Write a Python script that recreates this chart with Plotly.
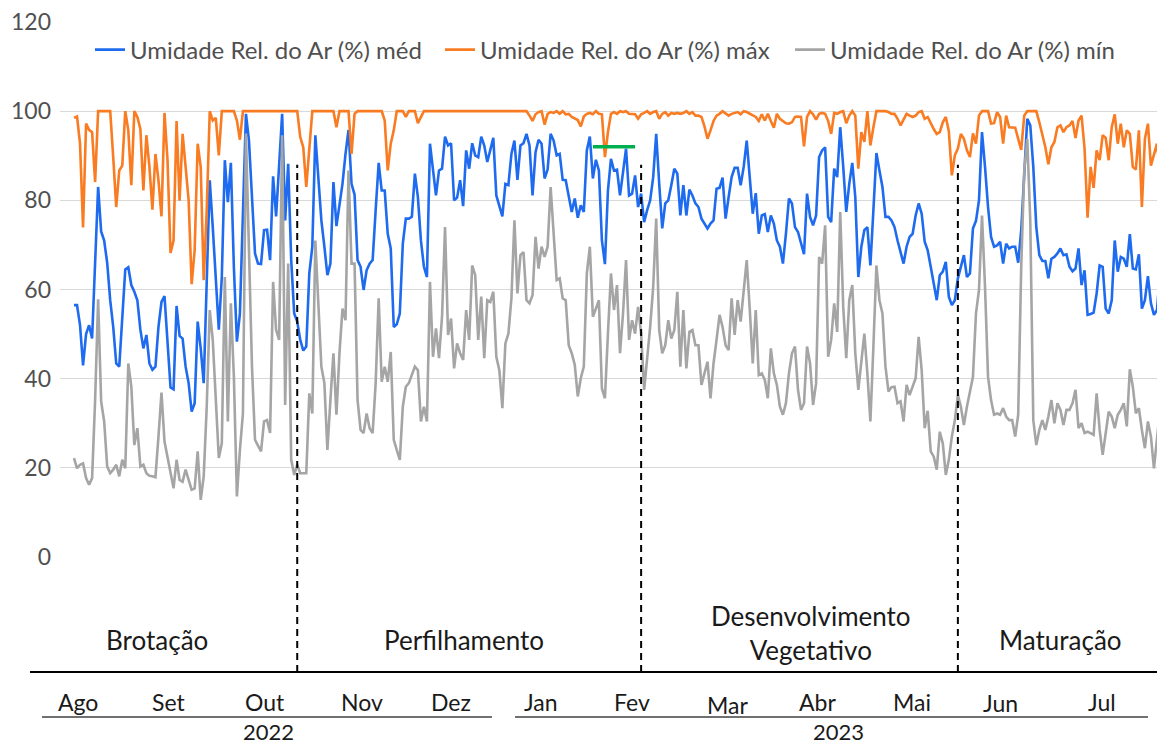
import pandas as pd
import plotly.graph_objects as go

# ---------------- data (daily relative humidity, %) ----------------
umid_med = [
    56.5,56.5,52,43,50,52,49,66,83,73,71,66,57.6,51.6,43.4,42.7,54,64.5,65,61,
    59.5,57.6,51,46.8,49.8,43.4,42,42.7,51.6,57.2,58.5,48,38,37.6,56.3,49.6,49,42.7,39,32.6,
    34.5,52.8,46.8,39,62.8,84.5,74,63.6,51,62.8,89,79.6,88.4,65,48.3,54.6,78.5,99.4,
    93.4,80,68.1,65.8,65.7,73.3,73.4,66.6,85.4,76.4,87.5,99.4,75.5,88.2,66.6,54.6,52.8,48.7,46.3,47.2,
    63.6,69.6,94.6,85.2,75.5,69.6,63.2,65.8,84.1,74.2,79.3,83.7,90.4,95.8,83.7,81.3,66.6,65.1,59.9,64.3,
    65.8,66.6,77.8,88.4,82.2,82.2,72.5,69.2,51.6,52.2,54.6,70.3,75.9,75.9,76.3,86,80.7,71,65.1,62.8,92.7,
    86.7,81.1,86.7,87.1,94.3,92.3,92.8,80,80.6,84.5,78.7,91.2,87.1,92.8,90.1,89.7,94.3,92.3,88.6,91.2,
    94,81.1,78.5,76.4,83.7,83.4,90.4,93.4,84.6,92.3,92.8,94.9,92.3,81.1,90.8,93.6,92.7,84.9,86.9,94.9,
    93.4,90.1,90.4,84.6,84.5,81.1,77.4,80.4,76.1,78.9,77.4,91.2,94.3,84.9,89.1,86.7,71,65.7,82.2,89.3,
    86.7,86.9,81.1,86.3,91.6,81.1,81.5,85.6,78.5,81.5,75.1,77.8,80,85.2,94.9,83.7,73.7,79.3,80,83.4,
    87.1,86,76.6,83.4,76.6,82.4,81.1,79.3,78.5,75.9,74.8,73.7,74.8,75.5,82.6,82.8,85.1,75.9,80.7,85.2,
    87.3,87.3,83.4,87.5,93.4,86,77,81.6,72.5,76.6,76.9,72.9,76.6,74.8,71,69.6,65.8,72.5,80.4,79.3,
    74,72.9,70.3,67.9,81.5,76.3,74.4,76.6,89.7,91.2,91.9,76.3,75.1,87.1,85.2,96.4,87.5,77.4,83.7,88.4,
    80.7,62.8,69.6,73.3,74,65.4,77.8,90.6,86.7,83,76.3,76.3,75.5,74,71,68.4,65.8,69.6,71.8,72.5,
    76.6,79.3,77,70.7,68.8,65.1,61,57.6,63.2,64,66.2,58.4,56.5,57.6,62.5,65.4,67.7,62.8,63.6,73.7,
    75.4,80,95.3,87.5,78.5,71.8,69.6,69.9,70.7,65.8,70.3,69.2,69.6,69.6,66,73.3,85.2,98.3,96.8,87.5,
    74,67.7,66.4,66.4,62.5,66.9,67.3,68.1,69.2,67.7,67.9,65.1,64.1,64.7,69.2,61,64.3,54.3,54.5,54.8,
    59.1,65.4,65.1,55.7,54.6,57.6,71,64,67.3,66.9,65.1,72.4,64.7,64.5,67.9,55.7,57.6,63,56.9,54.3,
    55.4,63.6,67.9,
]

umid_max = [
    98.5,98.8,92.7,73.9,97.2,95.8,95.3,84.1,100,100,100,100,100,89.7,78.5,86.7,87.8,100,95.7,83.4,
    100,98.7,96,82.2,94.6,87.5,77.9,90.4,84.5,76.4,99.6,89,68.2,71,97.8,79.9,94.9,87.5,80,61.2,
    68.8,92.7,87.5,62.1,77.8,100,97.9,98.5,90.1,100,100,100,100,100,97.9,93.6,100,100,
    100,100,100,100,100,100,100,100,100,100,100,100,100,100,100,100,100,94.2,91.9,83,
    91.9,100,100,100,100,100,100,100,100,96.4,100,100,100,100,90.4,99.4,100,100,100,100,
    100,100,100,100,100,97.9,86.7,92.7,95.7,100,100,100,98.7,100,100,100,97.3,98.8,100,100,100,
    100,100,100,100,100,100,100,100,100,100,100,100,100,100,100,100,100,100,100,100,
    100,100,100,100,100,100,100,100,100,100,100,100,99,97.8,99.3,99.8,100,97,99.4,99.8,
    99.6,100,99.4,100,99.3,99.4,98.7,98.3,98,96.6,98.8,99.4,99.6,99.3,100,99.4,99.3,89.7,95.3,99.4,
    99.8,99.4,100,99.8,100,99.4,99.4,99.3,98.3,99.3,99.6,100,99.4,99.8,100,98.3,99.4,99.8,99,99.6,
    99.4,99.6,99.4,99.6,100,99.4,99.8,99,99,98.7,96.6,93.8,95.7,97.8,99,99.4,100,99.4,99,99.4,
    99.6,99.8,99.3,100,99.8,99.4,99,98.7,97.8,99.3,97.9,99.4,97.8,96.3,99.4,98.3,97.8,97.3,97.2,97.5,
    98.7,98.8,98.7,92.1,98.7,100,99.3,98.1,99.4,99.6,99.4,97.8,94.9,99.6,99.4,99.8,100,97.3,99,100,
    99,87.1,95.3,93.1,100,92.3,96.4,100,100,100,100,99.8,99.4,99.4,98.3,96.8,98.3,99.4,99,98.7,
    99,99.8,100,98.3,98.7,97.2,96,94.9,95.3,97.5,98.7,95.5,85.6,90.1,91.6,94.9,93.8,91.2,89.7,95,
    92.7,99,100,100,100,97.2,97.3,99.8,98.7,92.7,99,96.4,96.4,96.3,93.8,91.3,99,100,100,100,
    100,97.5,94.9,91.9,88.1,91.9,93.1,96.4,96.8,95.3,96.4,96.8,97.8,94,97.9,99,91.6,76.1,87.5,82.8,
    91.2,89,94.6,94,89,96.4,99.3,92.7,97.2,91.9,95.7,94.9,87.5,86.9,95.7,78.5,93.8,97.2,87.8,90.1,
    92.7,86.7,96,
]

umid_min = [
    22.2,19.9,20.7,21,17.7,16.2,17.7,35.2,57.8,34.9,30.4,20.3,18.8,19.6,20.7,18.1,21.8,19.9,43.4,38.2,
    25.1,28.9,20.3,20.7,18.8,18.2,18.1,17.9,27,36.9,25.9,22.5,18.4,15.4,21.8,17.3,16.9,19.6,17.3,15.1,
    15.4,23.7,12.8,18.1,33.7,55.4,48.7,35.2,22.2,25.5,62.8,30.4,56.9,40.4,13.6,24,32.2,95,
    67.3,42.7,26.3,24.8,23.7,30.4,30.7,27.8,61.7,50.9,48.7,94.6,34.1,65.8,21.8,18.4,20.7,18.8,18.8,18.8,
    36.7,32.2,71,57.6,42.7,39,24,35.2,45.7,31.9,45.7,55.7,53.1,86.7,65.8,65.8,35.2,28.5,27.8,32.2,
    28.9,27.8,39,58,39.3,42.7,39.3,46,26.3,24,21.8,33.7,38.2,39,40.8,42.7,41.9,30.4,33.7,30.4,61.7,
    44.9,51.3,44.6,53.9,74,49.8,53.5,42.3,47.9,45.7,44.2,55.4,48.7,65.4,63.2,48.7,58.4,44.6,57.6,57.2,
    59.5,44.9,41.9,33.4,47.9,50.1,58,75.5,59.1,67.7,68.4,57.6,56.9,58.7,71.8,64.7,69.6,67.3,69.6,83,
    72.5,62.1,62.5,58,57.6,47.5,45.7,43.1,36,40.1,42.7,63.6,69.6,53.9,55.7,57.6,37.8,35.6,50.1,63.6,
    55.4,61,45.7,54.6,66.6,48.7,53.1,50.1,56.1,50.1,37.5,44.2,51.6,60.6,75.9,50.9,45.7,47.5,53.1,49,
    50.9,59.5,42.7,55.4,42.3,50.5,50.9,47.5,47.5,38.6,41.2,43.8,35.6,43.4,48.7,54.3,51.6,47.5,46.4,58,
    49.8,57.6,52.8,59.9,66.6,55.7,43.4,55.4,40.8,41.2,39.7,35.6,46.8,41.2,38.6,33.7,31.9,34.5,41.2,45.7,
    47.2,37.5,33,34.5,47.2,43.4,34.1,39,67.3,65.8,74.4,44.9,48.7,56.9,50.5,77.4,56.1,44.6,57.6,61,
    45.7,37.5,44.2,50.1,41.2,30.4,47.2,65.4,57.6,54.6,42.7,37.1,38.1,38.2,34.5,34.9,30.4,38.6,36.3,38.2,
    40.1,49.4,41.9,28.9,32.8,23.7,22.5,19.6,28.1,25.5,18.4,21.8,27,30.7,36.3,33.7,29.6,33.7,36.7,40.4,
    54.6,59.9,76.6,60.6,40.4,35.2,31.9,32.2,31.9,33.4,31.5,30.7,30.7,27,31.9,65.1,86.7,93.8,75.5,30.7,
    25.1,28.5,30.7,28.5,31.5,35.2,30,34.5,33,29.6,33,33,34.5,37.5,28.9,30,27.8,28.1,27.8,27.4,
    36.7,28.5,22.9,27.8,32.6,31.5,28.9,31.9,33,34.5,29.3,42.1,38.2,32.2,33.4,28.5,24.4,30.4,27,19.9,
    26.3,33,34.9,
]

series_names = ["Umidade Rel. do Ar (%) méd", "Umidade Rel. do Ar (%) máx", "Umidade Rel. do Ar (%) mín"]
start_date = "2022-08-01"

phase_names = ["Brotação", "Perfilhamento", "Desenvolvimento<br>Vegetativo", "Maturação"]
phase_bounds = ["2022-10-14", "2023-02-05", "2023-05-21"]
phase_bound_top = 88
month_labels = ["Ago", "Set", "Out", "Nov", "Dez", "Jan", "Fev", "Mar", "Abr", "Mai", "Jun", "Jul"]
year_labels = ["2022", "2023"]
green_mark = {"start": "2023-01-20", "end": "2023-02-03", "level": 92}
y_ticks = [0, 20, 40, 60, 80, 100, 120]

# ---------------- figure ----------------
OFF = 8                      # page body margin offset of the figure div
VW, VH = 1165, 744           # visible window
W, H = VW - OFF, VH - OFF
PLOT_L, PLOT_R, PLOT_T, PLOT_B = 60, 1165, 22, 557   # plot area in window pixels
L, R, T = PLOT_L - OFF, 0, PLOT_T - OFF
B = H - (PLOT_B - OFF)
PW, PH = W - L - R, H - T - B
FONT = "Lato"

def px(x):
    return (x - PLOT_L) / PW

def py(y):
    return (PLOT_B - y) / PH

n = len(umid_med)
dates = pd.date_range(start_date, periods=n, freq="D")
day_px = (1163 - 74) / (n - 1)
x0 = dates[0] - pd.Timedelta(hours=24 * (74 - PLOT_L) / day_px)
x1 = dates[-1] + pd.Timedelta(hours=24 * (PLOT_R - 1163) / day_px)

colors = ["#1F6BEF", "#F97B22", "#A5A5A5"]
fig = go.Figure()
for name, vals, c in zip(series_names, [umid_med, umid_max, umid_min], colors):
    fig.add_trace(go.Scatter(x=dates[:len(vals)], y=vals, name=name, mode="lines",
                             line=dict(color=c, width=2.6), hoverinfo="skip"))

shapes = []
for d in phase_bounds:
    shapes.append(dict(type="line", xref="x", yref="paper", x0=d, x1=d,
                       y0=py(672), y1=phase_bound_top / 120,
                       line=dict(color="black", width=2, dash="7px,5px")))
shapes.append(dict(type="line", xref="x", yref="y", x0=green_mark["start"], x1=green_mark["end"],
                   y0=green_mark["level"], y1=green_mark["level"],
                   line=dict(color="#00B050", width=3.5)))
shapes.append(dict(type="line", xref="paper", yref="paper", x0=px(30), x1=1.0,
                   y0=py(672), y1=py(672), line=dict(color="black", width=2)))
shapes.append(dict(type="line", xref="paper", yref="paper", x0=px(42), x1=px(492),
                   y0=py(717), y1=py(717), line=dict(color="#404040", width=1.5)))
shapes.append(dict(type="line", xref="paper", yref="paper", x0=px(515), x1=px(1148),
                   y0=py(717), y1=py(717), line=dict(color="#404040", width=1.5)))

ann = []
phase_pos = [(157, 640), (464, 640), (811, 633), (1060, 640)]
for t, (xx, yy) in zip(phase_names, phase_pos):
    ann.append(dict(text=t, x=px(xx), y=py(yy), xref="paper", yref="paper", showarrow=False,
                    xanchor="center", yanchor="middle", font=dict(family=FONT, size=26, color="#1a1a1a")))
month_pos = [(78, 702), (168, 702), (265, 702), (362, 702), (451, 702), (541, 702), (632, 702),
             (727, 705), (817, 702), (912, 702), (1000, 703), (1102, 702)]
for t, (xx, yy) in zip(month_labels, month_pos):
    ann.append(dict(text=t, x=px(xx), y=py(yy), xref="paper", yref="paper", showarrow=False,
                    xanchor="center", yanchor="middle", font=dict(family=FONT, size=23, color="#1a1a1a")))
for t, xx in zip(year_labels, [268, 838]):
    ann.append(dict(text=t, x=px(xx), y=py(731), xref="paper", yref="paper", showarrow=False,
                    xanchor="center", yanchor="middle", font=dict(family=FONT, size=22, color="#1a1a1a")))

fig.update_layout(
    width=W, height=H, margin=dict(l=L, r=R, t=T, b=B, pad=0, autoexpand=False),
    plot_bgcolor="white", paper_bgcolor="white",
    font=dict(family=FONT, color="#404040"),
    showlegend=True,
    legend=dict(orientation="h", x=px(90), y=py(50), xanchor="left", yanchor="middle",
                entrywidth=305, entrywidthmode="pixels", bgcolor="rgba(0,0,0,0)",
                font=dict(family=FONT, size=24, color="#505050"), itemwidth=30,
                traceorder="normal"),
    xaxis=dict(range=[str(x0), str(x1)], showgrid=False, showticklabels=False, ticks="",
               zeroline=False, showline=False, fixedrange=True),
    yaxis=dict(range=[0, 120], tickvals=y_ticks, showgrid=True, gridcolor="#D9D9D9", gridwidth=1,
               zeroline=False, showline=False, ticks="", ticklabelstandoff=8,
               ticklabeloverflow="allow",
               tickfont=dict(family=FONT, size=23, color="#505050"), fixedrange=True),
    shapes=shapes, annotations=ann,
)

fig.write_html("out.html", config={"displayModeBar": False})
